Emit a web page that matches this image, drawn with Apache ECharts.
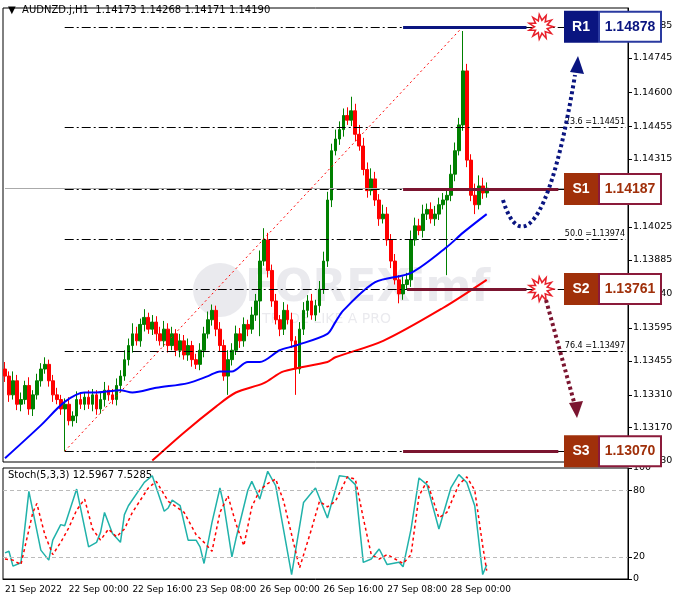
<!DOCTYPE html>
<html><head><meta charset="utf-8">
<script src="https://cdn.jsdelivr.net/npm/echarts@6/dist/echarts.min.js"></script>
<style>html,body{margin:0;padding:0;background:#fff}#c{width:678px;height:603px}</style>
</head><body><div id="c"></div>
<script>
const firstOpen = 1.1342;
const closes = [1.1339,1.1331,1.1337,1.1327,1.1329,1.1335,1.1325,1.1331,1.1337,1.1342,
1.1344,1.1337,1.1331,1.1329,1.1325,1.1327,1.1320,1.1322,1.1329,1.1327,
1.1330,1.1327,1.1331,1.1325,1.1329,1.1333,1.1331,1.1329,1.1335,1.1339,
1.1346,1.1352,1.1357,1.1354,1.1361,1.1364,1.1359,1.1362,1.1357,1.1354,
1.1359,1.1352,1.1357,1.1350,1.1354,1.1348,1.1352,1.1346,1.1344,1.1350,
1.1357,1.1363,1.1367,1.1359,1.1352,1.1339,1.1346,1.1350,1.1357,1.1354,
1.1361,1.1359,1.1365,1.1371,1.1388,1.1397,1.1384,1.1371,1.1363,1.1359,
1.1367,1.1363,1.1354,1.1342,1.1359,1.1367,1.1371,1.1365,1.1369,1.1376,
1.1388,1.1414,1.1435,1.1440,1.1444,1.1450,1.1448,1.1452,1.1442,1.1437,
1.1427,1.1418,1.1423,1.1414,1.1406,1.1408,1.1397,1.1388,1.1380,1.1374,
1.1378,1.1380,1.1397,1.1403,1.1401,1.1408,1.1410,1.1406,1.1408,1.1412,
1.1414,1.1416,1.1425,1.1435,1.1446,1.1469,1.1431,1.1416,1.1412,1.1420,1.1417,1.1419];
const upWick = [30,20,40,25,30,20,35,20,30,25, 30,20,25,30,20,25,30,20,35,25, 20,30,25,20,30,35,20,25,30,25,
40,30,45,30,25,35,20,30,25,30, 35,25,30,20,30,25,30,20,25,30, 30,35,25,20,30,25,40,30,35,25,
30,20,35,30,45,50,30,25,30,20, 35,25,30,20,30,35,25,30,25,35, 40,35,30,40,35,30,35,60,30,40,
35,30,45,30,25,40,30,25,30,20, 35,30,40,35,30,40,25,30,35,30, 30,25,40,35,30,170,30,25,50,45, 35,25];
const dnWick = [25,30,20,25,30,20,25,30,20,25, 20,25,30,20,25,180,20,25,30,20, 25,20,30,25,20,30,25,20,25,30,
20,25,30,20,25,30,20,25,30,20, 25,30,20,25,30,20,25,30,20,25, 30,20,25,30,25,20,80,25,20,30,
25,30,20,25,150,20,30,25,20,30, 25,20,30,110,20,25,30,20,25,30, 20,25,30,20,25,30,20,25,30,20,
25,30,20,25,30,20,25,30,20,40, 25,20,30,25,20,30,25,20,30,25, 20,320,25,30,20,25,30,25,40,20, 25,20];
const blueMA = [[0,1.1304],[9,1.1318],[15,1.1328],[20,1.1332],[23,1.1332],[29,1.1333],[32,1.1332],[38,1.1334],[46,1.1336],[51,1.1339],[54,1.1341],[57,1.1341],[61,1.1345],[64,1.1345],[69,1.1350],[73,1.1352],[81,1.1357],[83,1.1362],[85,1.1367],[93,1.1379],[102,1.1383],[111,1.1394],[115,1.1400],[121,1.1408]];
const redMA = [[37,1.1303],[45,1.1315],[53,1.1326],[58,1.1332],[65,1.1336],[70,1.1341],[81,1.1345],[83,1.1347],[95,1.1354],[110,1.1368],[121,1.1380]];
const stochK = [[0,23.5],[1,25],[2,11.6],[4,14.6],[6,79],[9,26],[11,17],[12,35],[14,49],[15,48],[18,81],[21,29],[23,33],[24,42],[25,60],[27,41],[29,33],[30,58],[31,66],[35,87],[37,93],[40,61],[41,64],[42,71],[44,66],[46,35],[48,35],[49,29],[50,14],[52,51],[54,82],[55,66],[57,20],[58,36],[61,80],[62,88],[64,72],[66,97],[68,84],[72,4],[75,69],[78,82],[81,55],[84,93],[86,92],[88,85],[90,15],[92,18],[94,27],[96,13],[99,15],[100,11],[102,45],[104,91],[106,85],[109,45],[112,82],[114,94],[116,87],[118,66],[120,4],[121,12.6]];
const stochD = [[0,18],[2,17],[4,13],[7,60],[8,68],[10,40],[12,22],[14,33],[16,46],[18,62],[20,72],[22,45],[24,35],[26,45],[28,38],[30,45],[32,60],[36,82],[38,88],[41,70],[43,65],[45,60],[48,40],[50,33],[52,25],[54,60],[56,75],[58,50],[60,30],[62,65],[64,80],[66,86],[68,90],[70,70],[74,10],[77,45],[79,70],[81,65],[83,70],[86,92],[88,90],[90,55],[92,22],[94,18],[96,22],[98,18],[100,14],[102,22],[104,75],[106,88],[109,55],[111,60],[114,85],[116,92],[118,80],[120,30],[121,7.5]];
const priceTicks = [1.1303,1.1317,1.1331,1.13455,1.13595,1.1374,1.13885,1.14025,1.14315,1.14455,1.146,1.14745,1.14885];
const stochTicks = [0,20,80,100];
const fibLevels = [1.14878,1.14451,1.14187,1.13974,1.13761,1.13497,1.1307];
const fibNames = ['','23.6','','50.0','','76.4',''];
const levels = {R1:1.14878,S1:1.14187,S2:1.13761,S3:1.1307};
const lastPrice = 1.1419;

const N = 157;
const cats = [];
{ let d=21,h=8; for(let i=0;i<N;i++){ cats.push((i===0)?'21 Sep 2022':(d+' Sep '+String(h).padStart(2,'0')+':00')); h++; if(h===24){h=0;d++; if(d===24)d=26;} } }
const candles = closes.map((c,i)=>{const o=i?closes[i-1]:firstOpen;return [o,c,Math.min(o,c)-dnWick[i]*1e-5,Math.max(o,c)+upWick[i]*1e-5];});

const chart = echarts.init(document.getElementById('c'));
const F = 'DejaVu Sans';
const fibMark = fibLevels.map((v,i)=>[{coord:[15,v],label:{show:!!fibNames[i],formatter:fibNames[i]+' ='+v.toFixed(5)}},{coord:[N-1,v]}]);
chart.setOption({
  animation:false,
  grid:[{left:3,top:8,width:625,height:454,show:true,borderColor:'#000',borderWidth:1},
        {left:3,top:468,width:625,height:111,show:true,borderColor:'#000',borderWidth:1}],
  xAxis:[{type:'category',data:cats,gridIndex:0,axisLine:{show:false},axisTick:{show:false},axisLabel:{show:false},splitLine:{show:false}},
         {type:'category',data:cats,gridIndex:1,axisLine:{lineStyle:{color:'#000'}},axisTick:{interval:(i)=>i%16===0&&i<=112,lineStyle:{color:'#000'}},
          axisLabel:{interval:(i)=>i%16===0&&i<=112,color:'#000',fontFamily:F,fontSize:9,align:'left',margin:6},splitLine:{show:false}}],
  yAxis:[{type:'value',gridIndex:0,position:'right',min:1.13024,max:1.14958,axisLine:{show:true,lineStyle:{color:'#000'}},
          axisTick:{show:true,customValues:priceTicks,length:4,lineStyle:{color:'#000'}},
          axisLabel:{customValues:priceTicks,formatter:v=>v.toFixed(5),color:'#000',fontFamily:F,fontSize:9.5,margin:5},splitLine:{show:false}},
         {type:'value',gridIndex:1,position:'right',min:0,max:100,axisLine:{show:true,lineStyle:{color:'#000'}},
          axisTick:{show:true,customValues:stochTicks,length:4,lineStyle:{color:'#000'}},
          axisLabel:{customValues:stochTicks,color:'#000',fontFamily:F,fontSize:9.5,margin:5},splitLine:{show:false}}],
  series:[
    {type:'candlestick',data:candles,barWidth:3.2,itemStyle:{color:'#008000',borderColor:'#008000',color0:'#ff0000',borderColor0:'#ff0000',borderWidth:1},
     markLine:{silent:true,symbol:'none',lineStyle:{color:'#000',type:[9,3,2,3],width:1},
       label:{position:'insideEndTop',color:'#000',fontFamily:F,fontSize:8,distance:1},data:fibMark.concat([
       [{coord:[0,lastPrice],lineStyle:{color:'#aaa',type:'solid'},label:{show:false}},{coord:[N-1,lastPrice]}],
       [{coord:[15,1.1307],lineStyle:{color:'#ff0000',type:[2,3],width:1},label:{show:false}},{coord:[115,1.14878]}],
       [{coord:[100,levels.R1],lineStyle:{color:'#0a1580',type:'solid',width:3},label:{show:false}},{coord:[131,levels.R1]}],
       [{coord:[100,levels.S1],lineStyle:{color:'#7b1530',type:'solid',width:3},label:{show:false}},{coord:[139,levels.S1]}],
       [{coord:[101,levels.S2],lineStyle:{color:'#7b1530',type:'solid',width:3},label:{show:false}},{coord:[131,levels.S2]}],
       [{coord:[100,levels.S3],lineStyle:{color:'#7b1530',type:'solid',width:3},label:{show:false}},{coord:[139,levels.S3]}]
     ])}},
    {type:'line',data:blueMA,symbol:'none',smooth:0.3,lineStyle:{color:'#0000ff',width:2},z:3},
    {type:'line',data:redMA,symbol:'none',smooth:0.3,lineStyle:{color:'#ff0000',width:2},z:3},
    {type:'line',xAxisIndex:1,yAxisIndex:1,data:stochK,symbol:'none',lineStyle:{color:'#20b2aa',width:1.5},
     markLine:{silent:true,symbol:'none',label:{show:false},lineStyle:{color:'#bbb',type:[4,3],width:1},data:[{yAxis:20},{yAxis:80}]}},
    {type:'line',xAxisIndex:1,yAxisIndex:1,data:stochD,symbol:'none',lineStyle:{color:'#ff0000',width:1.5,type:[3,3]}}
  ]
});

function star(cx,cy,r1,r2,n){const p=[];for(let i=0;i<2*n;i++){const r=i%2?r2:r1,a=Math.PI*i/n;p.push([cx+r*Math.cos(a),cy+r*Math.sin(a)]);}return p;}
const gy = v=>chart.convertToPixel({yAxisIndex:0},v);
const g = [];
g.push({type:'text',left:8,top:5,style:{text:'▼  AUDNZD.j,H1  1.14173 1.14268 1.14171 1.14190',fill:'#000',font:'10px '+F}});
g.push({type:'text',left:8,top:470,style:{text:'Stoch(5,3,3) 12.5967 7.5285',fill:'#000',font:'10px '+F}});
g.push({type:'circle',shape:{cx:220,cy:290,r:27},style:{fill:'rgba(150,150,170,0.2)'},z:0});
g.push({type:'text',left:245,top:268,style:{text:'FOREXimf',fill:'rgba(150,150,170,0.2)',font:'bold 44px '+F},z:0});
g.push({type:'text',left:262,top:312,style:{text:'TRADE LIKE A PRO',fill:'rgba(150,150,170,0.2)',font:'14px '+F},z:0});
g.push({type:'rect',shape:{x:629,y:gy(lastPrice)-6,width:12,height:12},style:{fill:'#000'},z:50});
[[541,gy(levels.R1)],[541,gy(levels.S2)]].forEach(([x,y])=>{
  g.push({type:'polygon',shape:{points:star(x,y,15,8,11)},style:{fill:'#e8202a'},z:60});
  g.push({type:'polygon',shape:{points:star(x,y,10,5,11)},style:{fill:'#fff'},z:61});
});
g.push({type:'bezierCurve',shape:{x1:503,y1:200,cpx1:518,cpy1:250,cpx2:548,cpy2:240,x2:575,y2:75},style:{stroke:'#0a1580',lineWidth:4,lineDash:[3,3],fill:null},z:60});
g.push({type:'polygon',shape:{points:[[578,56],[570,72],[584,74]]},style:{fill:'#0a1580'},z:60});
g.push({type:'line',shape:{x1:546,y1:300,x2:574,y2:402},style:{stroke:'#7b1530',lineWidth:4,lineDash:[3,3]},z:60});
g.push({type:'polygon',shape:{points:[[577,418],[569,403],[583,401]]},style:{fill:'#7b1530'},z:60});
const boxes=[['R1',levels.R1,'#0a1580','#2a3aa0','#0a1580'],['S1',levels.S1,'#a0300a','#8b1a3a','#a0300a'],['S2',levels.S2,'#a0300a','#8b1a3a','#a0300a'],['S3',levels.S3,'#a0300a','#8b1a3a','#a0300a']];
boxes.forEach(([n,v,c,b,t])=>{const y=gy(v);
  g.push({type:'rect',shape:{x:564,y:y-16,width:34,height:32},style:{fill:c},z:70});
  g.push({type:'rect',shape:{x:599,y:y-15,width:62,height:30},style:{fill:'#fff',stroke:b,lineWidth:2},z:70});
  g.push({type:'text',x:581,y:y,style:{text:n,fill:'#fff',font:'bold 14px Liberation Sans',align:'center',verticalAlign:'middle'},z:71});
  g.push({type:'text',x:630,y:y,style:{text:v.toFixed(5),fill:t,font:'bold 14px Liberation Sans',align:'center',verticalAlign:'middle'},z:71});
});
chart.setOption({graphic:g});
</script></body></html>
